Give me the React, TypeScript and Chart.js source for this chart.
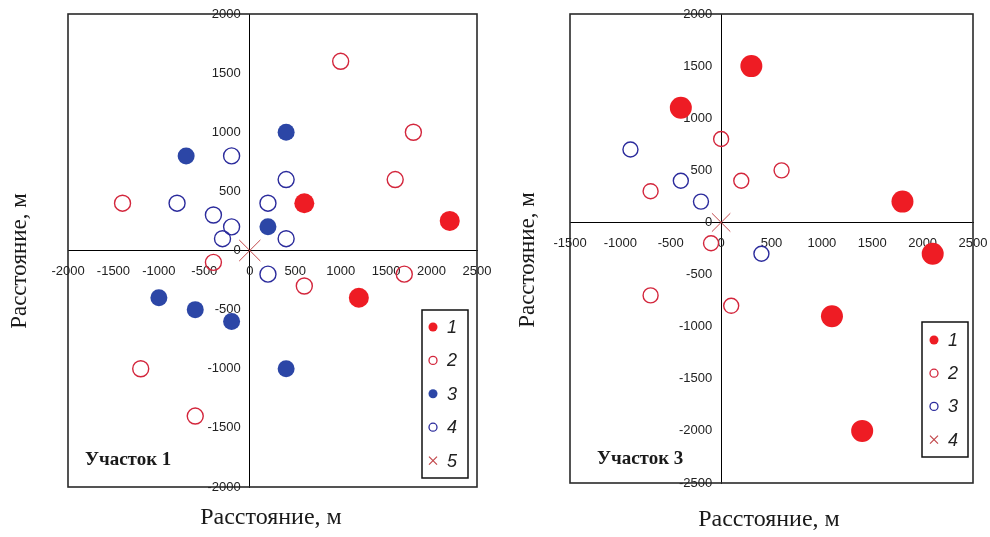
import React, { useEffect, useRef } from "react";
import { Chart, registerables } from "chart.js";

Chart.register(...registerables);

type Pt = { x: number; y: number };

// ---------- Участок 1 ----------
const p1Labels = ["1", "2", "3", "4", "5"];
const p1Cat1: Pt[] = [
  { x: 600, y: 400 }, { x: 2200, y: 250 }, { x: 1200, y: -400 },
];
const p1Cat2: Pt[] = [
  { x: 1000, y: 1600 }, { x: 1800, y: 1000 }, { x: 1600, y: 600 }, { x: -1400, y: 400 },
  { x: -400, y: -100 }, { x: 600, y: -300 }, { x: 1700, y: -200 }, { x: -1200, y: -1000 },
  { x: -600, y: -1400 },
];
const p1Cat3: Pt[] = [
  { x: 400, y: 1000 }, { x: -700, y: 800 }, { x: 200, y: 200 }, { x: -1000, y: -400 },
  { x: -600, y: -500 }, { x: -200, y: -600 }, { x: 400, y: -1000 },
];
const p1Cat4: Pt[] = [
  { x: -200, y: 800 }, { x: 400, y: 600 }, { x: -800, y: 400 }, { x: 200, y: 400 },
  { x: -400, y: 300 }, { x: -200, y: 200 }, { x: -300, y: 100 }, { x: 400, y: 100 },
  { x: 200, y: -200 },
];
const p1Cat5: Pt[] = [{ x: 0, y: 0 }];
const p1XTicks = [-2000, -1500, -1000, -500, 0, 500, 1000, 1500, 2000, 2500];
const p1YTicks = [-2000, -1500, -1000, -500, 0, 500, 1000, 1500, 2000];

// ---------- Участок 3 ----------
const p3Labels = ["1", "2", "3", "4"];
const p3Cat1: Pt[] = [
  { x: 300, y: 1500 }, { x: -400, y: 1100 }, { x: 1800, y: 200 }, { x: 2100, y: -300 },
  { x: 1100, y: -900 }, { x: 1400, y: -2000 },
];
const p3Cat2: Pt[] = [
  { x: 0, y: 800 }, { x: 600, y: 500 }, { x: 200, y: 400 }, { x: -700, y: 300 },
  { x: -100, y: -200 }, { x: -700, y: -700 }, { x: 100, y: -800 },
];
const p3Cat3: Pt[] = [
  { x: -900, y: 700 }, { x: -400, y: 400 }, { x: -200, y: 200 }, { x: 400, y: -300 },
];
const p3Cat4: Pt[] = [{ x: 0, y: 0 }];
const p3XTicks = [-1500, -1000, -500, 0, 500, 1000, 1500, 2000, 2500];
const p3YTicks = [-2500, -2000, -1500, -1000, -500, 0, 500, 1000, 1500, 2000];

const axisTitle = "Расстояние, м";

const RED = "#EE1C24";
const RED_OPEN = "#D3263C";
const BLUE = "#2C46A6";
const BLUE_OPEN = "#2B2B9C";
const CROSS = "#C2474A";

const SANS = "'Liberation Sans', Arial, sans-serif";
const SERIF = "'Liberation Serif', 'Times New Roman', serif";
const TICK_SIZE = 13;

type Style = { kind: "filled" | "open" | "cross"; color: string; r: number };

function makeDataset(label: string, data: Pt[], st: Style) {
  return {
    label,
    data,
    pointStyle: st.kind === "cross" ? "crossRot" : "circle",
    pointRadius: st.r,
    pointHoverRadius: st.r,
    pointBackgroundColor: st.kind === "filled" ? st.color : "rgba(0,0,0,0)",
    pointBorderColor: st.color,
    pointBorderWidth: st.kind === "filled" ? 0 : st.kind === "cross" ? 1 : 1.4,
    showLine: false,
    _kind: st.kind,
    _color: st.color,
  };
}

type TextItem = { text: string; x: number; y: number; font: string; align?: CanvasTextAlign; rot?: number };
type LegendBox = { x: number; y: number; w: number; h: number; first: number; step: number; mx: number; tx: number };

interface PanelCfg {
  left: number;
  datasets: any[];
  xTicks: number[];
  yTicks: number[];
  padding: { left: number; top: number; right: number; bottom: number };
  legend: LegendBox;
  texts: TextItem[];
}

function makePlugins(cfg: PanelCfg) {
  const frame = {
    id: "frameBox",
    beforeDatasetsDraw(chart: any) {
      const { ctx, chartArea: a } = chart;
      ctx.save();
      ctx.strokeStyle = "#2a2a2a";
      ctx.lineWidth = 1.6;
      ctx.strokeRect(a.left, a.top, a.right - a.left, a.bottom - a.top);
      // tick labels next to the axes that cross at (0, 0)
      const xs = chart.scales.x;
      const ys = chart.scales.y;
      const ax = xs.getPixelForValue(0);
      const ay = ys.getPixelForValue(0);
      ctx.fillStyle = "#222";
      ctx.font = `${TICK_SIZE}px ${SANS}`;
      ctx.textAlign = "right";
      ctx.textBaseline = "middle";
      cfg.yTicks.forEach((v) => {
        ctx.fillText(String(v), ax - 9, ys.getPixelForValue(v));
      });
      ctx.textAlign = "center";
      ctx.textBaseline = "top";
      cfg.xTicks.forEach((v) => {
        ctx.fillText(String(v), xs.getPixelForValue(v), ay + 14);
      });
      ctx.restore();
    },
  };
  const legend = {
    id: "boxLegend",
    afterDatasetsDraw(chart: any) {
      const ctx = chart.ctx as CanvasRenderingContext2D;
      const L = cfg.legend;
      ctx.save();
      ctx.fillStyle = "#ffffff";
      ctx.fillRect(L.x, L.y, L.w, L.h);
      ctx.strokeStyle = "#111";
      ctx.lineWidth = 1.5;
      ctx.strokeRect(L.x, L.y, L.w, L.h);
      chart.data.datasets.forEach((ds: any, i: number) => {
        const cy = L.y + L.first + i * L.step;
        const cx = L.x + L.mx;
        ctx.beginPath();
        if (ds._kind === "filled") {
          ctx.fillStyle = ds._color;
          ctx.arc(cx, cy, 4.5, 0, Math.PI * 2);
          ctx.fill();
        } else if (ds._kind === "open") {
          ctx.strokeStyle = ds._color;
          ctx.lineWidth = 1.3;
          ctx.arc(cx, cy, 4, 0, Math.PI * 2);
          ctx.stroke();
        } else {
          ctx.strokeStyle = ds._color;
          ctx.lineWidth = 1.2;
          ctx.moveTo(cx - 4, cy - 4);
          ctx.lineTo(cx + 4, cy + 4);
          ctx.moveTo(cx + 4, cy - 4);
          ctx.lineTo(cx - 4, cy + 4);
          ctx.stroke();
        }
        ctx.fillStyle = "#222";
        ctx.font = `italic 18px ${SANS}`;
        ctx.textAlign = "left";
        ctx.textBaseline = "middle";
        ctx.fillText(ds.label, L.x + L.tx, cy + 1);
      });
      ctx.restore();
    },
  };
  const texts = {
    id: "panelTexts",
    afterDraw(chart: any) {
      const ctx = chart.ctx as CanvasRenderingContext2D;
      cfg.texts.forEach((t) => {
        ctx.save();
        ctx.translate(t.x, t.y);
        if (t.rot) ctx.rotate(t.rot);
        ctx.font = t.font;
        ctx.fillStyle = "#1a1a1a";
        ctx.textAlign = t.align || "center";
        ctx.textBaseline = "middle";
        ctx.fillText(t.text, 0, 0);
        ctx.restore();
      });
    },
  };
  return [frame, legend, texts];
}

function Panel({ cfg }: { cfg: PanelCfg }) {
  const ref = useRef<HTMLCanvasElement>(null);
  useEffect(() => {
    const chart = new Chart(ref.current as HTMLCanvasElement, {
      type: "scatter",
      data: { datasets: cfg.datasets },
      options: {
        animation: false,
        responsive: false,
        devicePixelRatio: 1,
        events: [],
        layout: { padding: cfg.padding, autoPadding: false },
        plugins: { legend: { display: false }, tooltip: { enabled: false } },
        scales: {
          x: {
            type: "linear",
            position: { y: 0 } as any,
            min: cfg.xTicks[0],
            max: cfg.xTicks[cfg.xTicks.length - 1],
            afterBuildTicks: (s: any) => {
              s.ticks = cfg.xTicks.map((v) => ({ value: v }));
            },
            grid: { display: false, drawTicks: false },
            border: { display: true, color: "#000", width: 1 },
            ticks: { display: false },
          },
          y: {
            type: "linear",
            position: { x: 0 } as any,
            min: cfg.yTicks[0],
            max: cfg.yTicks[cfg.yTicks.length - 1],
            afterBuildTicks: (s: any) => {
              s.ticks = cfg.yTicks.map((v) => ({ value: v }));
            },
            grid: { display: false, drawTicks: false },
            border: { display: true, color: "#000", width: 1 },
            ticks: { display: false },
          },
        },
      } as any,
      plugins: makePlugins(cfg) as any,
    });
    return () => chart.destroy();
  }, []);
  return (
    <canvas
      ref={ref}
      width={495}
      height={537}
      style={{ position: "absolute", left: cfg.left, top: 0, width: 495, height: 537 }}
    />
  );
}

const panel1: PanelCfg = {
  left: 0,
  datasets: [
    makeDataset(p1Labels[0], p1Cat1, { kind: "filled", color: RED, r: 10 }),
    makeDataset(p1Labels[1], p1Cat2, { kind: "open", color: RED_OPEN, r: 8 }),
    makeDataset(p1Labels[2], p1Cat3, { kind: "filled", color: BLUE, r: 8.5 }),
    makeDataset(p1Labels[3], p1Cat4, { kind: "open", color: BLUE_OPEN, r: 8 }),
    makeDataset(p1Labels[4], p1Cat5, { kind: "cross", color: CROSS, r: 15 }),
  ],
  xTicks: p1XTicks,
  yTicks: p1YTicks,
  padding: { left: 68, top: 14, right: 18, bottom: 50 },
  legend: { x: 422, y: 310, w: 46, h: 168, first: 17, step: 33.4, mx: 11, tx: 25 },
  texts: [
    { text: axisTitle, x: 271, y: 518, font: `24px ${SERIF}` },
    { text: axisTitle, x: 20, y: 261, font: `23px ${SERIF}`, rot: -Math.PI / 2 },
    { text: "Участок 1", x: 85, y: 460, font: `bold 19px ${SERIF}`, align: "left" },
  ],
};

const panel3: PanelCfg = {
  left: 495,
  datasets: [
    makeDataset(p3Labels[0], p3Cat1, { kind: "filled", color: RED, r: 11 }),
    makeDataset(p3Labels[1], p3Cat2, { kind: "open", color: RED_OPEN, r: 7.5 }),
    makeDataset(p3Labels[2], p3Cat3, { kind: "open", color: BLUE_OPEN, r: 7.5 }),
    makeDataset(p3Labels[3], p3Cat4, { kind: "cross", color: CROSS, r: 13 }),
  ],
  xTicks: p3XTicks,
  yTicks: p3YTicks,
  padding: { left: 75, top: 14, right: 17, bottom: 54 },
  legend: { x: 427, y: 322, w: 46, h: 135, first: 18, step: 33.2, mx: 12, tx: 26 },
  texts: [
    { text: axisTitle, x: 274, y: 520, font: `24px ${SERIF}` },
    { text: axisTitle, x: 33, y: 260, font: `23px ${SERIF}`, rot: -Math.PI / 2 },
    { text: "Участок 3", x: 102, y: 459, font: `bold 19px ${SERIF}`, align: "left" },
  ],
};

export default function App() {
  return (
    <div style={{ position: "absolute", left: 0, top: 0, width: 990, height: 537, background: "#fff" }}>
      <Panel cfg={panel1} />
      <Panel cfg={panel3} />
    </div>
  );
}
